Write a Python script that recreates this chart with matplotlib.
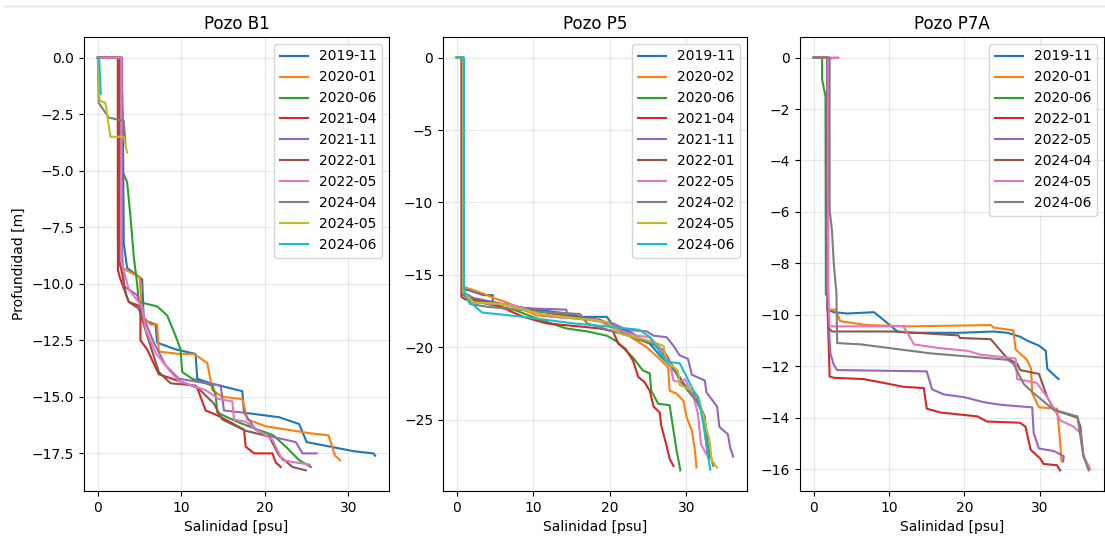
import matplotlib.pyplot as plt
from matplotlib.lines import Line2D

# Pozo B1
b1_labels = ['2019-11', '2020-01', '2020-06', '2021-04', '2021-11',
             '2022-01', '2022-05', '2024-04', '2024-05', '2024-06']
b1_sal = [
    [0, 2.8, 3.0, 3.1, 3.5, 5.3, 5.5, 6.9, 7.1, 9.3, 11.7, 11.9, 13.5, 17.3, 17.5, 21.7, 24.1, 25.0, 30.6, 33.0, 33.2],
    [0, 2.4, 2.4, 2.6, 3.4, 5.0, 5.3, 6.3, 7.1, 7.3, 9.7, 11.5, 13.1, 13.7, 14.9, 17.3, 17.9, 20.1, 25.2, 27.6, 28.4, 29.0],
    [0, 2.8, 2.8, 3.5, 3.9, 4.3, 4.7, 4.9, 7.1, 8.3, 9.3, 9.9, 10.1, 11.3, 13.7, 14.1, 14.3, 17.0, 21.0, 22.5, 24.1, 25.5],
    [0, 2.4, 2.4, 2.7, 3.7, 5.1, 5.1, 5.9, 7.3, 10.9, 11.9, 12.9, 14.5, 17.5, 17.7, 18.7, 20.9, 21.3, 21.9],
    [0, 2.9, 2.9, 3.1, 4.7, 5.7, 6.7, 8.1, 9.7, 14.7, 15.1, 17.5, 18.9, 20.1, 23.7, 24.5, 26.2],
    [0, 2.6, 2.6, 3.4, 3.7, 4.9, 6.3, 7.3, 8.7, 11.7, 13.9, 14.9, 17.7, 20.5, 21.7, 23.3, 24.9],
    [0, 2.8, 2.8, 3.7, 5.3, 5.7, 6.9, 8.5, 9.7, 12.9, 14.5, 16.1, 16.3, 17.7, 20.1, 20.9, 22.1, 23.7, 25.4],
    [0, 0.1, 1.3, 3.1, 3.3],
    [0, 0.2, 0.9, 1.5, 3.1, 3.5],
    [0, 0.15, 0.35],
]
b1_dep = [
    [0, 0, -3, -8.2, -9.3, -9.8, -11.6, -11.8, -12.6, -12.9, -13.1, -14.2, -14.4, -14.75, -15.7, -15.9, -16.2, -17.0, -17.4, -17.5, -17.6],
    [0, 0, -8.1, -9.2, -9.4, -9.7, -11.4, -11.8, -11.8, -13.0, -13.1, -13.1, -13.5, -14.7, -15.0, -15.1, -16.0, -16.3, -16.6, -16.7, -17.6, -17.8],
    [0, 0, -4.9, -5.5, -7.0, -8.8, -10.0, -10.8, -11.0, -11.4, -12.3, -12.9, -13.9, -14.2, -14.5, -14.9, -15.7, -16.15, -16.7, -17.2, -17.8, -18.1],
    [0, 0, -9.4, -9.8, -10.8, -11.0, -12.5, -12.9, -14.0, -14.45, -14.6, -15.6, -15.85, -16.45, -17.2, -17.5, -17.5, -17.9, -18.1],
    [0, 0, -8.5, -10.1, -10.5, -11.7, -12.6, -13.6, -14.2, -14.5, -15.6, -15.7, -16.45, -16.7, -17.0, -17.5, -17.5],
    [0, 0, -9.0, -10.5, -10.8, -11.1, -12.75, -13.9, -14.4, -14.5, -15.3, -16.0, -16.5, -16.75, -17.6, -18.1, -18.25],
    [0, 0, -9.0, -10.25, -11.0, -12.0, -13.05, -13.8, -14.3, -14.7, -15.1, -15.2, -16.0, -16.1, -16.7, -16.9, -17.8, -17.9, -18.0],
    [0, -2.0, -2.65, -2.8, -3.75],
    [0, -1.9, -2.0, -3.5, -3.5, -4.2],
    [0, 0, -1.6],
]

# Pozo P5
p5_labels = ['2019-11', '2020-02', '2020-06', '2021-04', '2021-11',
             '2022-01', '2022-05', '2024-02', '2024-05', '2024-06']
p5_sal = [
    [0, 0.9, 0.9, 1.5, 3.5, 4.7, 4.7, 7.8, 10.4, 14.8, 16.1, 19.6, 20.4, 23.0, 23.9, 25.2, 26.5, 27.8, 29.1, 30.2, 31.3, 32.2, 32.6, 32.8, 33.0],
    [0, 0.8, 0.8, 1.3, 3.5, 4.8, 6.5, 10.4, 15.2, 19.6, 21.3, 24.8, 26.5, 27.6, 27.8, 28.7, 29.6, 30.0, 30.7, 31.1, 31.3],
    [0, 0.7, 0.7, 1.1, 3.0, 7.4, 10.9, 14.3, 17.0, 19.6, 20.9, 23.0, 24.3, 25.2, 25.4, 26.3, 27.8, 28.3, 28.7, 29.2],
    [0, 0.6, 0.6, 1.1, 4.8, 8.7, 11.7, 18.7, 20.4, 21.1, 22.0, 23.0, 23.7, 24.5, 25.2, 25.7, 26.5, 26.7, 27.4, 27.8, 28.3],
    [0, 0.8, 0.8, 2.2, 8.7, 14.3, 14.5, 20.4, 22.2, 24.8, 25.7, 27.4, 28.3, 29.1, 30.2, 30.7, 32.4, 32.6, 34.0, 34.3, 35.4, 35.7, 36.1],
    [0, 0.8, 0.8, 1.3, 6.5, 12.6, 18.7, 21.3, 23.9, 25.7, 27.0, 28.3, 29.1, 30.4, 31.3, 32.2, 32.4, 32.8],
    [0, 0.8, 0.8, 2.2, 7.4, 12.2, 18.3, 20.4, 23.5, 25.2, 26.5, 27.8, 28.3, 29.1, 29.8, 30.9, 31.5, 31.9, 32.6],
    [0, 0.8, 0.8, 1.7, 3.9, 10.9, 16.1, 17.0, 20.4, 23.0, 25.7, 27.4, 28.3, 29.1, 30.2, 31.3, 32.4, 32.6, 33.5],
    [0, 0.8, 0.8, 2.2, 5.7, 10.9, 19.6, 21.3, 24.8, 27.0, 27.4, 28.9, 29.1, 30.9, 31.7, 32.2, 33.0, 33.3, 34.0],
    [0, 0.9, 0.9, 1.3, 3.3, 8.7, 15.2, 20.4, 23.9, 25.2, 26.5, 27.4, 29.1, 29.8, 30.9, 31.5, 32.2, 32.6, 33.1],
]
p5_dep = [
    [0, 0, -16.0, -16.05, -16.4, -16.4, -16.9, -17.2, -17.4, -17.7, -17.9, -17.9, -18.5, -19.05, -19.4, -19.75, -20.55, -21.25, -22.05, -23.0, -23.7, -24.6, -25.75, -26.9, -27.6],
    [0, 0, -15.8, -15.9, -16.3, -16.6, -16.9, -17.8, -18.0, -18.25, -18.8, -20.0, -20.8, -21.4, -23.0, -23.2, -23.7, -24.8, -25.75, -27.1, -28.3],
    [0, 0, -16.3, -16.5, -16.9, -17.4, -18.1, -18.7, -18.9, -19.2, -19.6, -20.7, -21.6, -21.8, -23.0, -23.9, -24.0, -25.75, -27.1, -28.5],
    [0, 0, -16.5, -16.7, -17.0, -17.9, -18.35, -18.7, -18.9, -19.75, -20.1, -20.9, -22.05, -22.4, -23.0, -24.1, -24.5, -25.4, -26.8, -27.7, -28.2],
    [0, 0, -16.2, -16.6, -17.3, -17.4, -17.9, -18.35, -18.8, -18.9, -19.2, -19.3, -19.9, -20.55, -20.8, -21.9, -22.3, -23.1, -24.1, -25.5, -26.0, -26.9, -27.55],
    [0, 0, -16.2, -16.6, -17.1, -17.7, -18.1, -18.9, -19.5, -19.8, -20.2, -21.4, -22.2, -23.0, -23.4, -24.6, -25.75, -27.6],
    [0, 0, -16.2, -16.9, -17.1, -17.9, -18.1, -18.7, -19.2, -19.3, -20.0, -21.0, -22.3, -22.4, -22.2, -23.4, -24.6, -26.7, -27.4],
    [0, 0, -16.0, -17.0, -17.2, -17.55, -17.7, -18.35, -18.9, -19.3, -19.75, -20.8, -21.4, -22.3, -23.0, -23.7, -24.8, -26.4, -28.2],
    [0, 0, -16.2, -16.9, -17.0, -17.7, -18.25, -19.05, -19.5, -19.9, -21.0, -21.6, -22.6, -23.0, -23.7, -24.8, -26.4, -27.8, -28.3],
    [0, 0, -16.0, -16.7, -17.6, -17.9, -18.35, -18.6, -18.8, -19.3, -20.3, -21.0, -21.1, -21.8, -23.0, -23.4, -25.3, -26.7, -28.45],
]

# Pozo P7A
p7a_labels = ['2019-11', '2020-01', '2020-06', '2022-01',
              '2022-05', '2024-04', '2024-05', '2024-06']
p7a_sal = [
    [0, 1.8, 1.8, 2.65, 4.4, 8.0, 8.85, 11.1, 12.8, 19.5, 23.9, 25.7, 27.4, 28.3, 29.9, 30.8, 31.0, 32.3, 32.5],
    [0, 1.85, 1.85, 2.9, 3.5, 7.1, 12.8, 23.5, 23.9, 26.5, 26.8, 28.3, 28.85, 29.0, 29.9, 32.3, 32.7, 32.9],
    [0, 1.1, 1.1, 1.55, 1.6],
    [0, 1.8, 1.8, 2.1, 2.65, 6.6, 9.3, 11.9, 14.6, 15.0, 16.8, 21.7, 23.0, 27.4, 28.1, 28.8, 30.1, 30.5, 32.3, 32.7],
    [0, 1.8, 1.8, 2.2, 2.65, 3.1, 15.0, 15.7, 17.3, 19.9, 22.6, 24.8, 29.0, 29.2, 29.9, 31.9, 33.2, 33.1],
    [0, 1.9, 1.9, 2.4, 10.6, 19.2, 19.4, 23.5, 25.7, 27.0, 27.4, 29.9, 31.0, 31.9, 35.0, 35.4, 35.8, 36.5],
    [0, 3.3, 1.9, 1.9, 2.1, 11.9, 12.3, 13.3, 16.8, 20.4, 22.1, 26.8, 27.0, 29.6, 31.0, 32.0, 32.7, 34.5, 35.4, 35.75, 36.3, 36.7],
    [0, 2.1, 2.1, 2.4, 2.65, 3.0, 3.1, 6.2, 15.5, 25.7, 26.5, 27.9, 29.2, 31.9, 35.0, 35.8, 36.5],
]
p7a_dep = [
    [0, 0, -9.8, -9.9, -9.95, -9.9, -10.1, -10.65, -10.7, -10.7, -10.65, -10.7, -10.85, -11.0, -11.2, -11.4, -12.1, -12.45, -12.5],
    [0, 0, -9.8, -9.8, -10.25, -10.4, -10.45, -10.4, -10.5, -10.6, -11.35, -11.75, -12.1, -13.05, -13.6, -13.65, -14.9, -15.7],
    [0, 0, -0.85, -1.5, -9.2],
    [0, 0, -9.5, -12.4, -12.45, -12.5, -12.65, -12.8, -12.85, -13.65, -13.8, -13.95, -14.15, -14.2, -14.35, -15.25, -15.6, -15.8, -15.85, -16.05],
    [0, 0, -9.5, -11.5, -11.95, -12.15, -12.2, -12.9, -13.1, -13.2, -13.4, -13.5, -13.6, -14.6, -15.2, -15.3, -15.5, -15.7],
    [0, 0, -10.5, -10.65, -10.65, -10.8, -10.9, -10.95, -11.7, -11.9, -12.15, -12.3, -13.2, -13.7, -14.0, -14.35, -15.5, -15.9],
    [0, 0, -0.05, -9.0, -10.45, -10.45, -10.65, -11.15, -11.3, -11.4, -11.55, -11.7, -12.5, -12.65, -13.2, -13.7, -14.1, -14.35, -14.6, -15.4, -15.8, -16.0],
    [0, 0, -5.9, -6.7, -8.0, -9.15, -11.1, -11.15, -11.5, -11.75, -11.9, -12.7, -13.05, -13.7, -13.95, -15.5, -16.05],
]

wells = [
    ('Pozo B1', b1_labels, b1_sal, b1_dep),
    ('Pozo P5', p5_labels, p5_sal, p5_dep),
    ('Pozo P7A', p7a_labels, p7a_sal, p7a_dep),
]

W, H = 1105, 537
fig = plt.figure(figsize=(W / 100, H / 100), dpi=100)

# axes boxes in pixels: left, right, top, bottom
boxes = [(84, 389, 37, 491), (443, 747, 37, 491), (800, 1104, 37, 491)]

for i, (title, labels, sal, dep) in enumerate(wells):
    l, r, t, b = boxes[i]
    ax = fig.add_axes([l / W, (H - b) / H, (r - l) / W, (b - t) / H])
    for s, d, lab in zip(sal, dep, labels):
        ax.plot(s, d, label=lab, linewidth=1.5)
    ax.set_title(title, fontsize=12)
    ax.set_xlabel('Salinidad [psu]')
    if i == 0:
        ax.set_ylabel('Profundidad [m]')
    ax.grid(True, alpha=0.3)
    ax.legend(loc='upper right')

# thin frame line at the top of the screenshot
fig.add_artist(Line2D([5 / W, 1], [1 - 6 / H, 1 - 6 / H], color='#e0e0e0', linewidth=1))

fig.savefig('out.png', dpi=100)
